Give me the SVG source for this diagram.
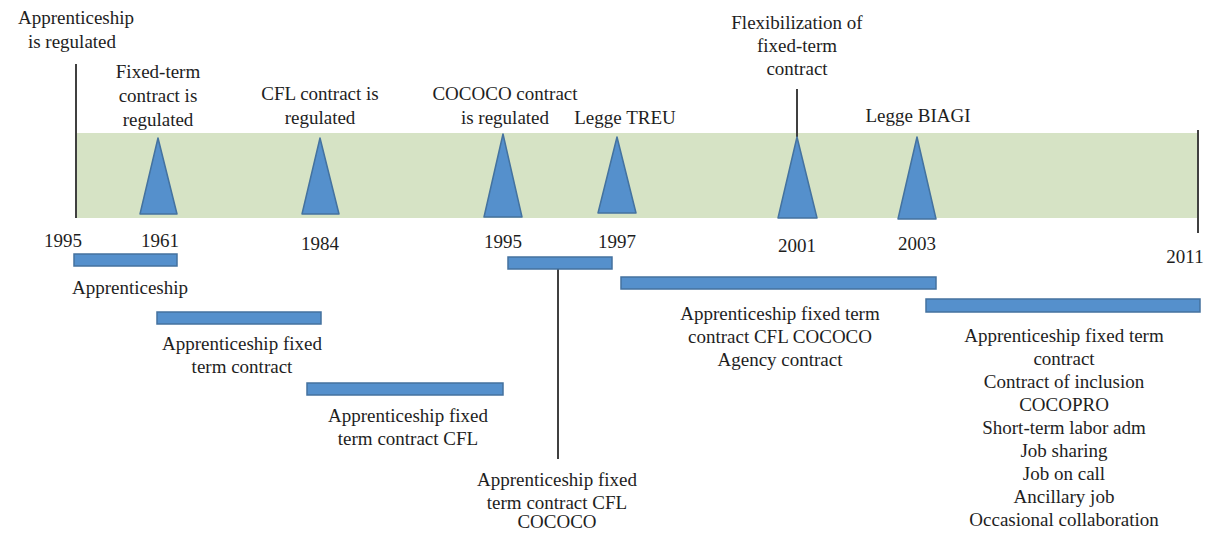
<svg xmlns="http://www.w3.org/2000/svg" width="1208" height="533" viewBox="0 0 1208 533">
<style>
text{font-family:"Liberation Serif","Times New Roman",serif;font-size:19px;fill:#1e1e1e;text-anchor:middle}
.tri{fill:#5590cc;stroke:#44729f;stroke-width:1.5;stroke-linejoin:round}
.bar{fill:#5590cc;stroke:#44729f;stroke-width:1.5}
.ln{stroke:#404040;stroke-width:2;fill:none}
</style>
<rect width="1208" height="533" fill="#fff"/>
<g id="band"><rect x="76" y="133" width="1122" height="85" fill="#d6e3c5"/></g>
<g id="connectors">
<line class="ln" x1="76" y1="64" x2="76" y2="218"/>
<line class="ln" x1="1198" y1="130" x2="1198" y2="233"/>
<line class="ln" x1="797" y1="89" x2="797" y2="137"/>
<line class="ln" x1="558" y1="269" x2="558" y2="459"/>
</g>
<g id="m1"><polygon class="tri" points="158,138 140,214 177,214"/><text x="158" y="78">Fixed-term</text><text x="158" y="102">contract  is</text><text x="158" y="126">regulated</text></g>
<g id="m2"><polygon class="tri" points="320,138 302,214 339,214"/><text x="320" y="100">CFL contract is</text><text x="320" y="124">regulated</text></g>
<g id="m3"><polygon class="tri" points="503,134 484,217 522,217"/><text x="505" y="100">COCOCO contract</text><text x="505" y="124">is regulated</text></g>
<g id="m4"><polygon class="tri" points="617,137 598,213 636,213"/><text x="625" y="124">Legge TREU</text></g>
<g id="m5"><polygon class="tri" points="797,137 778,218 817,218"/><text x="797" y="29">Flexibilization of</text><text x="797" y="52">fixed-term</text><text x="797" y="75">contract</text></g>
<g id="m6"><polygon class="tri" points="917,137 898,219 936,219"/><text x="918" y="122">Legge BIAGI</text></g>
<g id="m0"><text x="76" y="24">Apprenticeship</text><text x="72" y="48">is regulated</text></g>
<g id="years">
<text x="63" y="247">1995</text>
<text x="160" y="247">1961</text>
<text x="320" y="250">1984</text>
<text x="503" y="248">1995</text>
<text x="617" y="248">1997</text>
<text x="797" y="252">2001</text>
<text x="917" y="250">2003</text>
<text x="1185" y="263">2011</text>
</g>
<g id="p1"><rect class="bar" x="74" y="254" width="103" height="12"/><text x="130" y="294">Apprenticeship</text></g>
<g id="p2"><rect class="bar" x="157" y="312" width="164" height="12"/><text x="242" y="350">Apprenticeship fixed</text><text x="242" y="373">term contract</text></g>
<g id="p3"><rect class="bar" x="307" y="383" width="196" height="12"/><text x="408" y="422">Apprenticeship fixed</text><text x="408" y="445">term contract CFL</text></g>
<g id="p4"><rect class="bar" x="508" y="257" width="104" height="12"/><text x="557" y="486">Apprenticeship fixed</text><text x="557" y="509">term contract CFL</text><text x="557" y="528">COCOCO</text></g>
<g id="p5"><rect class="bar" x="621" y="277" width="315" height="12"/><text x="780" y="320">Apprenticeship fixed term</text><text x="780" y="343">contract CFL COCOCO</text><text x="780" y="366">Agency contract</text></g>
<g id="p6"><rect class="bar" x="926" y="299" width="274" height="13"/>
<text x="1064" y="342">Apprenticeship fixed term</text>
<text x="1064" y="365">contract</text>
<text x="1064" y="388">Contract of inclusion</text>
<text x="1064" y="411">COCOPRO</text>
<text x="1064" y="434">Short-term labor adm</text>
<text x="1064" y="457">Job sharing</text>
<text x="1064" y="480">Job on call</text>
<text x="1064" y="503">Ancillary job</text>
<text x="1064" y="526">Occasional collaboration</text>
</g>
</svg>
